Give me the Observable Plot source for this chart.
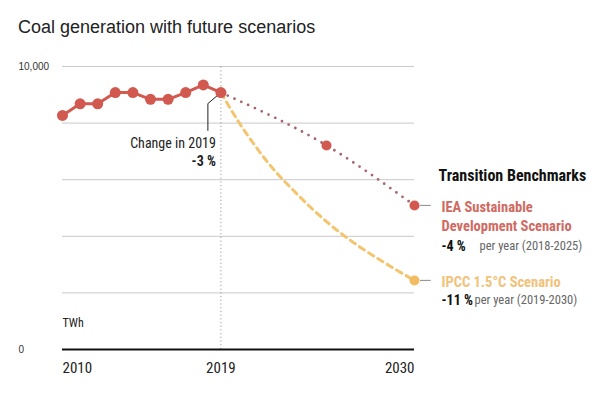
<!DOCTYPE html>
<html><head><meta charset="utf-8">
<script src="https://cdn.jsdelivr.net/npm/d3@7"></script>
<script src="https://cdn.jsdelivr.net/npm/@observablehq/plot@0.6"></script>
<style>
body{margin:0;background:#fff;width:616px;height:395px;overflow:hidden}
#title{font-family:"Liberation Sans",Arial,Helvetica,sans-serif;font-size:18px;color:#222;padding:17px 0 0 18px;height:31px;line-height:20px;box-sizing:content-box}
#chart svg{display:block;overflow:visible}
</style></head><body>
<div id="title">Coal generation with future scenarios</div>
<div id="chart"></div>
<script>
// Historical coal generation (TWh)
const years = [2010,2011,2012,2013,2014,2015,2016,2017,2018,2019];
const coalTWh = [8270,8680,8680,9080,9080,8840,8840,9080,9350,9080];
// IEA Sustainable Development Scenario
const ieaYears = [2019,2025,2030];
const ieaTWh = [9080,7210,5090];
// IPCC 1.5°C Scenario
const ipccYears = [2019,2020,2021,2022,2023,2024,2025,2026,2027,2028,2029,2030];
const ipccTWh = [9080,8050,7150,6360,5700,5080,4520,4020,3580,3180,2800,2440];
// Ticks
const xTicks = [2010,2019,2030];
const yTicks = [0,10000];
const gridValues = [2000,4000,6000,8000,10000];
// Texts
const titleText = "Coal generation with future scenarios";
const unitLabel = "TWh";
const changeLabel = "Change in 2019";
const changeValue = "-3 %";
const legendTitle = "Transition Benchmarks";
const ieaName = ["IEA Sustainable","Development Scenario"];
const ieaRate = "-4 %", ieaRateNote = "per year (2018-2025)";
const ipccName = "IPCC 1.5°C Scenario";
const ipccRate = "-11 %", ipccRateNote = "per year (2019-2030)";

const hist = years.map((year,i)=>({year, value: coalTWh[i]}));
const iea = ieaYears.map((year,i)=>({year, value: ieaTWh[i]}));
const ipcc = ipccYears.map((year,i)=>({year, value: ipccTWh[i]}));
const last = hist[hist.length-1];
const ieaEnd = iea[iea.length-1];
const ipccEnd = ipcc[ipcc.length-1];
const leader = [
  {year:last.year, value:last.value},
  {year:2018.26, value:8690},
  {year:2018.26, value:7740}
];

const RED="#d2594f", IEA_DOT="#a8646c", YEL="#f3c56e", IEA_TXT="#cf6a62", IPCC_TXT="#f0c27a";
const NARROW='"Liberation Sans Narrow","Arial Narrow","Roboto Condensed","Liberation Sans",sans-serif';
const REG='"Liberation Sans",Arial,sans-serif';
const xy={x:"year",y:"value"};

const chart = Plot.plot({
  width:616, height:347, marginTop:18, marginBottom:46, marginLeft:62, marginRight:202,
  x:{domain:[2010,2030]}, y:{domain:[0,10000]},
  style:{fontFamily:NARROW, background:"transparent", overflow:"visible"},
  marks:[
    Plot.ruleY(gridValues,{stroke:"#c9c9c9", strokeWidth:1}),
    Plot.ruleX([2019],{y1:0,y2:10000,stroke:"#9a9a9a",strokeDasharray:"1.2,2.5"}),
    Plot.ruleY([0],{stroke:"#111",strokeWidth:2.2}),
    Plot.axisY(yTicks,{tickSize:0,tickPadding:44,textAnchor:"start",tickFormat:d3.format(","),fontSize:10,fontFamily:REG,fill:"#333",label:null}),
    Plot.axisX([xTicks[0]],{tickSize:0,tickPadding:13,textAnchor:"start",tickFormat:d=>String(d),fontSize:15,fill:"#222",label:null}),
    Plot.axisX([xTicks[1]],{tickSize:0,tickPadding:13,textAnchor:"middle",tickFormat:d=>String(d),fontSize:15,fill:"#222",label:null}),
    Plot.axisX([xTicks[2]],{tickSize:0,tickPadding:13,textAnchor:"end",tickFormat:d=>String(d),fontSize:15,fill:"#222",label:null}),
    Plot.line(ipcc,{...xy,stroke:YEL,strokeWidth:3,strokeDasharray:"6,5",curve:"natural"}),
    Plot.line(iea,{...xy,stroke:IEA_DOT,strokeWidth:2.8,strokeDasharray:"0,7.5",strokeLinecap:"round",curve:"monotone-x"}),
    Plot.line(leader,{...xy,stroke:"#222",strokeWidth:1}),
    Plot.line(hist,{...xy,stroke:RED,strokeWidth:3}),
    Plot.dot(hist,{...xy,r:5.5,fill:RED}),
    Plot.dot([iea[1],ieaEnd],{...xy,r:5,fill:RED}),
    Plot.dot([ipccEnd],{...xy,r:5,fill:"#f2bd62"}),
    Plot.text([unitLabel],{x:2010,y:0,dy:-26,textAnchor:"start",fontSize:12,fill:"#222"}),
    Plot.text([changeLabel],{x:last.year,y:last.value,dx:-5,dy:51,textAnchor:"end",fontSize:14,fill:"#222"}),
    Plot.text([changeValue],{x:last.year,y:last.value,dx:-5,dy:69,textAnchor:"end",fontSize:14,fontWeight:"bold",fill:"#222"}),
    Plot.ruleY([ieaEnd.value],{x1:2030.34,x2:2030.95,stroke:"#999",strokeWidth:1.2}),
    Plot.ruleY([ipccEnd.value],{x1:2030.34,x2:2030.95,stroke:"#999",strokeWidth:1.2}),
    Plot.text([legendTitle],{x:2030,y:ieaEnd.value,dx:24,dy:-30,textAnchor:"start",fontSize:16,fontWeight:"bold",fill:"#111"}),
    Plot.text([ieaName[0]],{x:2030,y:ieaEnd.value,dx:27,dy:2,textAnchor:"start",fontSize:14.5,fontWeight:"bold",fill:IEA_TXT}),
    Plot.text([ieaName[1]],{x:2030,y:ieaEnd.value,dx:27,dy:21,textAnchor:"start",fontSize:14.5,fontWeight:"bold",fill:IEA_TXT}),
    Plot.text([ieaRate],{x:2030,y:ieaEnd.value,dx:27,dy:41,textAnchor:"start",fontSize:14,fontWeight:"bold",fill:"#111"}),
    Plot.text([ieaRateNote],{x:2030,y:ieaEnd.value,dx:65,dy:41,textAnchor:"start",fontSize:12.5,fill:"#666"}),
    Plot.text([ipccName],{x:2030,y:ipccEnd.value,dx:27,dy:2,textAnchor:"start",fontSize:14.5,fontWeight:"bold",fill:IPCC_TXT}),
    Plot.text([ipccRate],{x:2030,y:ipccEnd.value,dx:27,dy:20,textAnchor:"start",fontSize:14,fontWeight:"bold",fill:"#111"}),
    Plot.text([ipccRateNote],{x:2030,y:ipccEnd.value,dx:60,dy:20,textAnchor:"start",fontSize:12.5,fill:"#666"})
  ]
});
document.getElementById("chart").appendChild(chart);
document.getElementById("title").textContent = titleText;
</script>
</body></html>
